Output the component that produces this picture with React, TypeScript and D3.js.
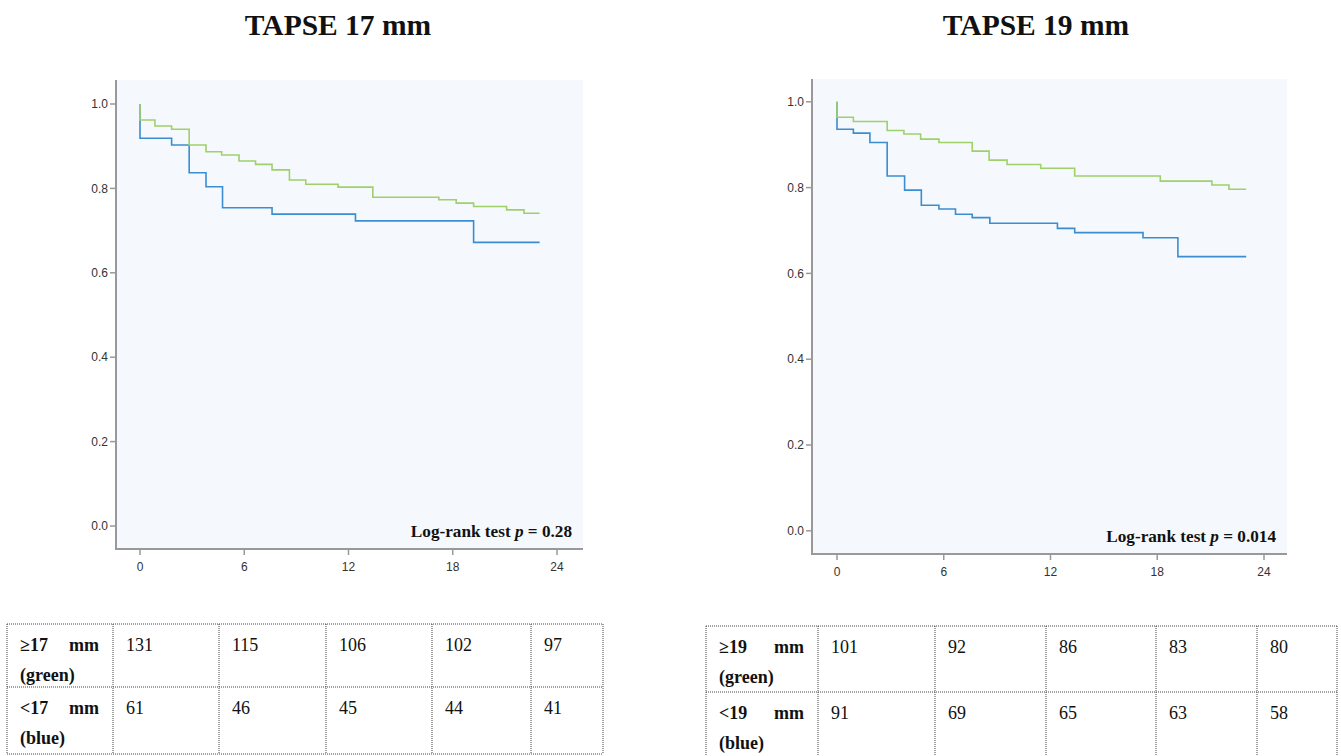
import React from "react";
import * as d3 from "d3";

// ---------- data ----------
const titles = ["TAPSE 17 mm", "TAPSE 19 mm"];
const pValues = ["0.28", "0.014"];
const yTicks = [0, 0.2, 0.4, 0.6, 0.8, 1.0];
const xTicks = [0, 6, 12, 18, 24];

// left panel (TAPSE 17 mm): [month, survival]
const leftGreen: [number, number][] = [
  [0, 1.0], [0, 0.962], [0.86, 0.948], [1.82, 0.94], [2.83, 0.903], [3.8, 0.887],
  [4.7, 0.879], [5.7, 0.865], [6.65, 0.857], [7.6, 0.844], [8.6, 0.82], [9.54, 0.81],
  [11.4, 0.803], [13.4, 0.779], [17.2, 0.773], [18.2, 0.765], [19.2, 0.757],
  [21.1, 0.749], [22.1, 0.741], [23.0, 0.741],
];
const leftBlue: [number, number][] = [
  [0, 1.0], [0, 0.919], [1.82, 0.903], [2.83, 0.837], [3.8, 0.804], [4.75, 0.754],
  [7.6, 0.739], [12.4, 0.723], [19.2, 0.672], [23.0, 0.672],
];
// right panel (TAPSE 19 mm)
const rightGreen: [number, number][] = [
  [0, 1.0], [0, 0.964], [0.92, 0.954], [2.82, 0.933], [3.76, 0.925], [4.7, 0.913],
  [5.73, 0.905], [7.6, 0.885], [8.55, 0.864], [9.56, 0.854], [11.45, 0.845],
  [13.36, 0.827], [18.17, 0.815], [21.07, 0.806], [22.03, 0.796], [23.0, 0.796],
];
const rightBlue: [number, number][] = [
  [0, 1.0], [0, 0.936], [0.92, 0.927], [1.85, 0.905], [2.82, 0.827], [3.8, 0.794],
  [4.74, 0.759], [5.73, 0.75], [6.66, 0.738], [7.6, 0.73], [8.59, 0.717],
  [12.39, 0.705], [13.36, 0.695], [17.2, 0.683], [19.16, 0.639], [23.0, 0.639],
];

// number-at-risk tables
const leftRowLabels = [["≥17", "mm", "(green)"], ["<17", "mm", "(blue)"]];
const leftGreenAtRisk = [131, 115, 106, 102, 97];
const leftBlueAtRisk = [61, 46, 45, 44, 41];
const rightRowLabels = [["≥19", "mm", "(green)"], ["<19", "mm", "(blue)"]];
const rightGreenAtRisk = [101, 92, 86, 83, 80];
const rightBlueAtRisk = [91, 69, 65, 63, 58];

// ---------- styling / layout ----------
const GREEN = "#9fd06a";
const BLUE = "#3a8dd0";
const BG = "#f5f9fd";
const AXIS = "#999999";
const SERIF = "'Liberation Serif', 'Times New Roman', serif";
const SANS = "'Liberation Sans Narrow', 'Liberation Sans', Arial, sans-serif";

const panels = [
  {
    title: titles[0], titleX: 338, p: pValues[0],
    left: 116, right: 583, top: 80, axisY: 549,
    x0: 140, x24: 557, y1: 104, y0: 526,
    green: leftGreen, blue: leftBlue,
    table: {
      cols: [7, 113, 219, 326, 432, 531, 603], rows: [624, 687, 754],
      labels: leftRowLabels, values: [leftGreenAtRisk, leftBlueAtRisk],
    },
  },
  {
    title: titles[1], titleX: 1036, p: pValues[1],
    left: 812, right: 1287, top: 79, axisY: 554,
    x0: 837, x24: 1264, y1: 101.8, y0: 530.8,
    green: rightGreen, blue: rightBlue,
    table: {
      cols: [706, 818, 935, 1046, 1156, 1257, 1337], rows: [626, 692, 760],
      labels: rightRowLabels, values: [rightGreenAtRisk, rightBlueAtRisk],
    },
  },
];

function Panel({ cfg }: { cfg: (typeof panels)[number] }) {
  const x = d3.scaleLinear().domain([0, 24]).range([cfg.x0, cfg.x24]);
  const y = d3.scaleLinear().domain([0, 1]).range([cfg.y0, cfg.y1]);
  const line = d3
    .line<[number, number]>()
    .x((d) => x(d[0]))
    .y((d) => y(d[1]))
    .curve(d3.curveStepAfter);
  const t = cfg.table;
  return (
    <g>
      <text
        x={cfg.titleX}
        y={35}
        textAnchor="middle"
        fontFamily={SERIF}
        fontWeight="bold"
        fontSize={29.5}
        fill="#111"
      >
        {cfg.title}
      </text>
      <rect x={cfg.left} y={cfg.top} width={cfg.right - cfg.left} height={cfg.axisY - cfg.top} fill={BG} />
      {/* axes */}
      <line x1={cfg.left} x2={cfg.left} y1={cfg.top} y2={cfg.axisY + 1} stroke={AXIS} strokeWidth={2} />
      <line x1={cfg.left - 1} x2={cfg.right} y1={cfg.axisY} y2={cfg.axisY} stroke={AXIS} strokeWidth={2} />
      {yTicks.map((v) => (
        <g key={"y" + v}>
          <line x1={cfg.left - 6} x2={cfg.left} y1={y(v)} y2={y(v)} stroke={AXIS} strokeWidth={1.5} />
          <text x={cfg.left - 8} y={y(v)} dy="0.35em" textAnchor="end" fontFamily={SANS} fontSize={12} fill="#333">
            {v.toFixed(1)}
          </text>
        </g>
      ))}
      {xTicks.map((v) => (
        <g key={"x" + v}>
          <line x1={x(v)} x2={x(v)} y1={cfg.axisY} y2={cfg.axisY + 6} stroke={AXIS} strokeWidth={1.5} />
          <text x={x(v)} y={cfg.axisY + 18} dy="0.35em" textAnchor="middle" fontFamily={SANS} fontSize={12} fill="#333">
            {v}
          </text>
        </g>
      ))}
      <path d={line(cfg.blue) || ""} fill="none" stroke={BLUE} strokeWidth={1.6} />
      <path d={line(cfg.green) || ""} fill="none" stroke={GREEN} strokeWidth={1.6} />
      <text
        x={cfg.right - 11}
        y={cfg.axisY - 12}
        textAnchor="end"
        fontFamily={SERIF}
        fontWeight="bold"
        fontSize={17.2}
        fill="#111"
      >
        Log-rank test <tspan fontStyle="italic">p</tspan> = {cfg.p}
      </text>
      {/* at-risk table */}
      {t.cols.map((cx, i) => (
        <line key={"c" + i} x1={cx} x2={cx} y1={t.rows[0]} y2={t.rows[t.rows.length - 1]} stroke="#444" strokeWidth={1} strokeDasharray="1,1" />
      ))}
      {t.rows.map((ry, i) => (
        <line key={"r" + i} x1={t.cols[0]} x2={t.cols[t.cols.length - 1]} y1={ry} y2={ry} stroke="#444" strokeWidth={1} strokeDasharray="1,1" />
      ))}
      {t.labels.map((lab, r) => {
        const top = t.rows[r];
        const b1 = top + 27;
        const b2 = top + 57;
        return (
          <g key={"l" + r}>
            <text x={t.cols[0] + 13} y={b1} fontFamily={SERIF} fontWeight="bold" fontSize={18} fill="#111">{lab[0]}</text>
            <text x={t.cols[1] - 14} y={b1} textAnchor="end" fontFamily={SERIF} fontWeight="bold" fontSize={18} fill="#111">{lab[1]}</text>
            <text x={t.cols[0] + 13} y={b2} fontFamily={SERIF} fontWeight="bold" fontSize={18} fill="#111">{lab[2]}</text>
            {t.values[r].map((v, c) => (
              <text key={c} x={t.cols[c + 1] + 13} y={b1} fontFamily={SERIF} fontSize={18} fill="#111">{v}</text>
            ))}
          </g>
        );
      })}
    </g>
  );
}

export default function App() {
  return (
    <svg
      width={1341}
      height={756}
      viewBox="0 0 1341 756"
      style={{ position: "absolute", left: 0, top: 0, background: "#fff" }}
    >
      {panels.map((p, i) => (
        <Panel key={i} cfg={p} />
      ))}
    </svg>
  );
}
